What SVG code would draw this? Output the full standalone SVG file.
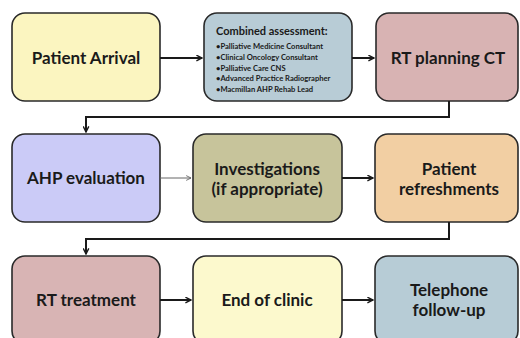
<svg xmlns="http://www.w3.org/2000/svg" width="520" height="338" viewBox="0 0 520 338">
  <defs>
    <marker id="ah" viewBox="0 0 10 10" refX="9" refY="5" markerWidth="7" markerHeight="7" markerUnits="userSpaceOnUse" orient="auto">
      <path d="M1,1 L9,5 L1,9" fill="none" stroke="#1a1a1a" stroke-width="2"/>
    </marker>
    <marker id="ahThin" viewBox="0 0 10 10" refX="9" refY="5" markerWidth="6" markerHeight="6" markerUnits="userSpaceOnUse" orient="auto">
      <path d="M1,1 L9,5 L1,9" fill="none" stroke="#666" stroke-width="1.5"/>
    </marker>
  </defs>
  <style>
    .box { stroke: #2a2a2a; stroke-width: 1.6; }
    .lbl { font-family: Lato, "Open Sans", "Liberation Sans", sans-serif; font-weight: bold; font-size: 17px; fill: #1a1a1a; text-anchor: middle; }
    .ttl { font-family: Lato, "Open Sans", "Liberation Sans", sans-serif; font-weight: bold; font-size: 11px; fill: #1a1a1a; }
    .itm { font-family: Lato, "Open Sans", "Liberation Sans", sans-serif; font-weight: bold; font-size: 7.6px; fill: #1a1a1a; }
    .conn { fill: none; stroke: #1a1a1a; stroke-width: 2; }
  </style>
  <rect width="520" height="338" fill="#ffffff"/>

  <g id="patient-arrival">
    <rect class="box" x="12" y="13" width="148" height="88" rx="13" fill="#fbf5c0"/>
    <text class="lbl" x="86" y="64">Patient Arrival</text>
  </g>
  <g id="combined-assessment">
    <rect class="box" x="204" y="13" width="148" height="88" rx="13" fill="#b8ccd6"/>
    <text class="ttl" x="216" y="35">Combined assessment:</text>
    <text class="itm" x="216" y="49">•Palliative Medicine Consultant</text>
    <text class="itm" x="216" y="60">•Clinical Oncology Consultant</text>
    <text class="itm" x="216" y="70.5">•Palliative Care CNS</text>
    <text class="itm" x="216" y="81">•Advanced Practice Radiographer</text>
    <text class="itm" x="216" y="91.5">•Macmillan AHP Rehab Lead</text>
  </g>
  <g id="rt-planning-ct">
    <rect class="box" x="376" y="13" width="142" height="88" rx="13" fill="#d8b3b3"/>
    <text class="lbl" x="448" y="64">RT planning CT</text>
  </g>

  <g id="ahp-evaluation">
    <rect class="box" x="12" y="134" width="148" height="88" rx="13" fill="#cbcbf7"/>
    <text class="lbl" x="86" y="184">AHP evaluation</text>
  </g>
  <g id="investigations">
    <rect class="box" x="193" y="134" width="149" height="88" rx="13" fill="#c7c49b"/>
    <text class="lbl" x="267" y="175">Investigations</text>
    <text class="lbl" x="267" y="195">(if appropriate)</text>
  </g>
  <g id="patient-refreshments">
    <rect class="box" x="375" y="134" width="143" height="88" rx="13" fill="#f2cfa3"/>
    <text class="lbl" x="449" y="175">Patient</text>
    <text class="lbl" x="449" y="195">refreshments</text>
  </g>

  <g id="rt-treatment">
    <rect class="box" x="12" y="256" width="148" height="88" rx="13" fill="#d8b4b4"/>
    <text class="lbl" x="86" y="306">RT treatment</text>
  </g>
  <g id="end-of-clinic">
    <rect class="box" x="193" y="256" width="149" height="88" rx="13" fill="#fcf9cd"/>
    <text class="lbl" x="267" y="306">End of clinic</text>
  </g>
  <g id="telephone-follow-up">
    <rect class="box" x="375" y="256" width="143" height="88" rx="13" fill="#b7ccd6"/>
    <text class="lbl" x="449" y="296">Telephone</text>
    <text class="lbl" x="449" y="316">follow-up</text>
  </g>

  <g id="connectors">
    <line class="conn" x1="160" y1="58" x2="202" y2="58" marker-end="url(#ah)"/>
    <line class="conn" x1="352" y1="58" x2="374" y2="58" marker-end="url(#ah)"/>
    <polyline class="conn" points="449,101 449,117 86,117 86,132" marker-end="url(#ah)"/>
    <line fill="none" stroke="#666" stroke-width="1" x1="160" y1="178" x2="191" y2="178" marker-end="url(#ahThin)"/>
    <line class="conn" x1="342" y1="178" x2="373" y2="178" marker-end="url(#ah)"/>
    <polyline class="conn" points="449,222 449,239 86,239 86,254" marker-end="url(#ah)"/>
    <line class="conn" x1="160" y1="300" x2="191" y2="300" marker-end="url(#ah)"/>
    <line class="conn" x1="342" y1="300" x2="373" y2="300" marker-end="url(#ah)"/>
  </g>
</svg>
